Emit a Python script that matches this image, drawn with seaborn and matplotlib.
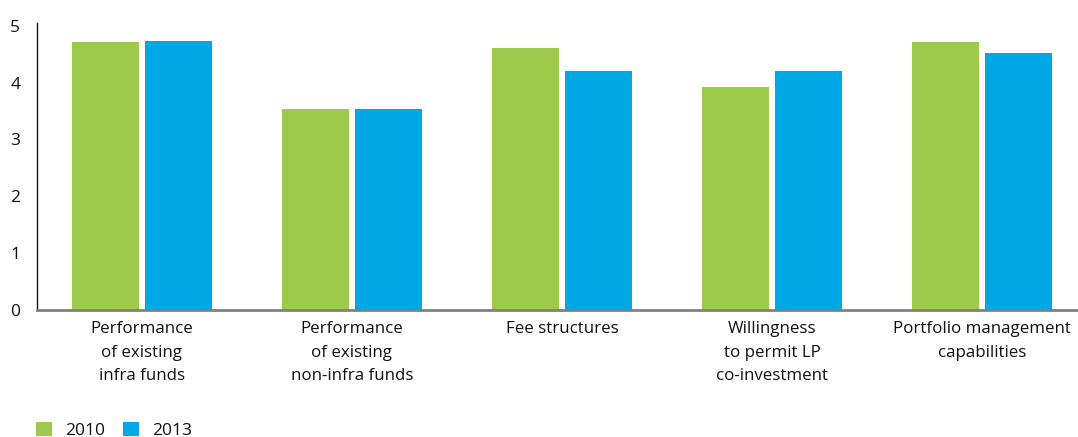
import matplotlib
matplotlib.use("Agg")
import matplotlib.pyplot as plt
import seaborn as sns
import pandas as pd

categories = [
    "Performance\nof existing\ninfra funds",
    "Performance\nof existing\nnon-infra funds",
    "Fee structures",
    "Willingness\nto permit LP\nco-investment",
    "Portfolio management\ncapabilities",
]
years = ["2010", "2013"]
values_2010 = [4.71, 3.54, 4.61, 3.93, 4.72]
values_2013 = [4.73, 3.54, 4.21, 4.21, 4.53]
y_ticks = [0, 1, 2, 3, 4, 5]

colors = {"2010": "#9DCA4A", "2013": "#00A9E6"}

df = pd.DataFrame({
    "category": categories * 2,
    "year": [years[0]] * len(categories) + [years[1]] * len(categories),
    "score": values_2010 + values_2013,
})

sns.set_theme(style="white")
plt.rcParams["font.family"] = ["Open Sans", "DejaVu Sans"]

fig = plt.figure(figsize=(10.78, 4.37), dpi=100)
ax = fig.add_axes([0.0343, 0.2906, 0.9657, 0.6569])

sns.barplot(data=df, x="category", y="score", hue="year", order=categories,
            hue_order=years, palette=colors, width=0.695, gap=0.082,
            saturation=1, linewidth=0, ax=ax)

ax.set_xlim(-0.5, 4.457)
ax.set_ylim(0, 5.05)
ax.set_yticks(y_ticks)
ax.set_xlabel("")
ax.set_ylabel("")
ax.tick_params(axis="y", length=0, pad=12, labelsize=12.5, labelcolor="#111111")
ax.tick_params(axis="x", length=0, pad=8, labelsize=12.2, labelcolor="#111111")
for lbl in ax.get_xticklabels():
    lbl.set_linespacing(1.62)

for side in ["top", "right"]:
    ax.spines[side].set_visible(False)
ax.spines["left"].set_color("#111111")
ax.spines["left"].set_linewidth(1.0)
ax.spines["bottom"].set_color("#808080")
ax.spines["bottom"].set_linewidth(2.0)

sns.move_legend(ax, "lower left", bbox_to_anchor=(0.0334, -0.004), bbox_transform=fig.transFigure,
                ncol=2, frameon=False, title=None, fontsize=12.5,
                handlelength=0.9, handleheight=0.9, handletextpad=0.8,
                columnspacing=1.0, borderaxespad=0.0, borderpad=0.0)
for t in ax.get_legend().get_texts():
    t.set_color("#111111")

fig.savefig("out.png", dpi=100)
